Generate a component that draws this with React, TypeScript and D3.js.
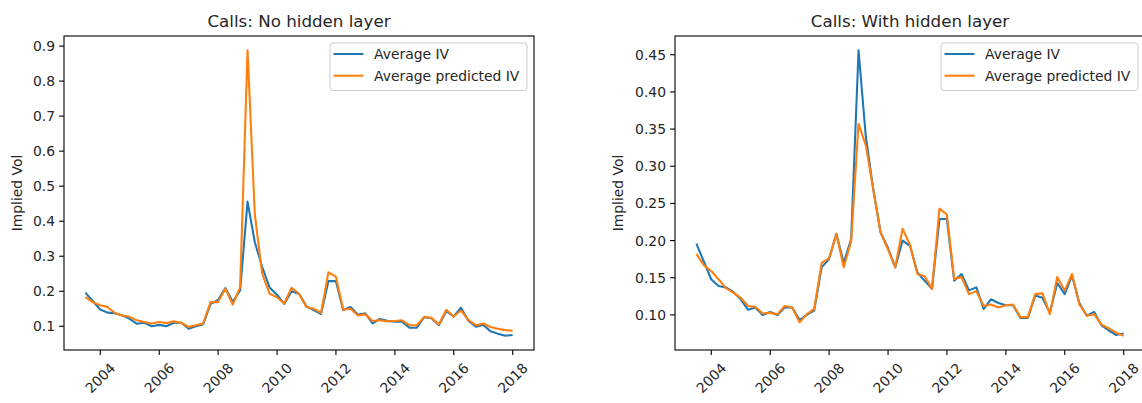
import React from "react";
import * as d3 from "d3";

// quarter-end dates, mid 2003 to end 2017
const dates = [
  "2003-06-30", "2003-09-30", "2003-12-31",
  "2004-03-31", "2004-06-30", "2004-09-30", "2004-12-31",
  "2005-03-31", "2005-06-30", "2005-09-30", "2005-12-31",
  "2006-03-31", "2006-06-30", "2006-09-30", "2006-12-31",
  "2007-03-31", "2007-06-30", "2007-09-30", "2007-12-31",
  "2008-03-31", "2008-06-30", "2008-09-30", "2008-12-31",
  "2009-03-31", "2009-06-30", "2009-09-30", "2009-12-31",
  "2010-03-31", "2010-06-30", "2010-09-30", "2010-12-31",
  "2011-03-31", "2011-06-30", "2011-09-30", "2011-12-31",
  "2012-03-31", "2012-06-30", "2012-09-30", "2012-12-31",
  "2013-03-31", "2013-06-30", "2013-09-30", "2013-12-31",
  "2014-03-31", "2014-06-30", "2014-09-30", "2014-12-31",
  "2015-03-31", "2015-06-30", "2015-09-30", "2015-12-31",
  "2016-03-31", "2016-06-30", "2016-09-30", "2016-12-31",
  "2017-03-31", "2017-06-30", "2017-09-30", "2017-12-31",
];

const averageIV = [
  0.196, 0.172, 0.148, 0.139, 0.137, 0.131, 0.121, 0.107, 0.110, 0.100,
  0.104, 0.100, 0.110, 0.110, 0.093, 0.100, 0.106, 0.164, 0.175, 0.209,
  0.170, 0.202, 0.456, 0.340, 0.270, 0.211, 0.190, 0.164, 0.200, 0.193,
  0.157, 0.146, 0.135, 0.229, 0.229, 0.146, 0.155, 0.133, 0.137, 0.108,
  0.121, 0.116, 0.113, 0.113, 0.096, 0.096, 0.126, 0.123, 0.103, 0.143,
  0.128, 0.153, 0.116, 0.099, 0.104, 0.086, 0.079, 0.073, 0.075,
];

const predictedNoHidden = [
  0.183, 0.169, 0.160, 0.155, 0.138, 0.131, 0.127, 0.117, 0.112, 0.108,
  0.112, 0.109, 0.114, 0.110, 0.098, 0.103, 0.108, 0.169, 0.169, 0.207,
  0.162, 0.212, 0.888, 0.420, 0.250, 0.193, 0.183, 0.165, 0.210, 0.193,
  0.155, 0.150, 0.138, 0.254, 0.242, 0.147, 0.150, 0.131, 0.134, 0.115,
  0.117, 0.114, 0.115, 0.117, 0.103, 0.103, 0.127, 0.124, 0.105, 0.147,
  0.128, 0.145, 0.118, 0.103, 0.108, 0.098, 0.093, 0.089, 0.087,
];

const predictedHidden = [
  0.182, 0.167, 0.159, 0.148, 0.136, 0.130, 0.123, 0.112, 0.111, 0.102,
  0.103, 0.101, 0.112, 0.110, 0.090, 0.101, 0.108, 0.170, 0.176, 0.209,
  0.164, 0.199, 0.357, 0.328, 0.270, 0.211, 0.188, 0.164, 0.216, 0.194,
  0.155, 0.152, 0.135, 0.243, 0.235, 0.148, 0.151, 0.128, 0.132, 0.112,
  0.114, 0.110, 0.113, 0.114, 0.097, 0.097, 0.128, 0.129, 0.101, 0.151,
  0.133, 0.155, 0.114, 0.099, 0.101, 0.087, 0.082, 0.076, 0.072,
];

const yearTicks = ["2004", "2006", "2008", "2010", "2012", "2014", "2016", "2018"];
const ticksNoHidden = [0.1, 0.2, 0.3, 0.4, 0.5, 0.6, 0.7, 0.8, 0.9];
const ticksHidden = [0.1, 0.15, 0.2, 0.25, 0.3, 0.35, 0.4, 0.45];
const legendLabels = ["Average IV", "Average predicted IV"];
const colors = ["#1f77b4", "#ff7f0e"];

const FONT = "DejaVu Sans, sans-serif";
const parse = d3.timeParse("%Y-%m-%d");
const parseYear = d3.timeParse("%Y");

function Chart(props: any) {
  const { left, title, predicted, yTicks, yFormat, labelX } = props;
  const top = 36, bottom = 350, w = 470;
  const right = left + w;

  const xs = dates.map((d) => parse(d) as Date);
  const [d0, d1] = d3.extent(xs) as [Date, Date];
  const pad = (+d1 - +d0) * 0.05;
  const x = d3.scaleTime().domain([new Date(+d0 - pad), new Date(+d1 + pad)]).range([left, right]);

  const all = averageIV.concat(predicted);
  const lo = d3.min(all) as number, hi = d3.max(all) as number;
  const ypad = (hi - lo) * 0.05;
  const y = d3.scaleLinear().domain([lo - ypad, hi + ypad]).range([bottom, top]);

  const line = d3.line<number>()
    .x((_, i) => x(xs[i]))
    .y((v) => y(v));

  const fmt = d3.format(yFormat);
  const lgW = 197, lgH = 47.5;
  const lgX = right - 7 - lgW, lgY = top + 7;

  return (
    <g fontFamily={FONT} fill="#262626">
      <text x={(left + right) / 2} y={27} textAnchor="middle" fontSize={16.7}>{title}</text>
      <path d={line(averageIV) || ""} fill="none" stroke={colors[0]} strokeWidth={2.08} strokeLinejoin="round" />
      <path d={line(predicted) || ""} fill="none" stroke={colors[1]} strokeWidth={2.08} strokeLinejoin="round" />
      <rect x={left} y={top} width={w} height={bottom - top} fill="none" stroke="#000" strokeWidth={1.1} />
      {yTicks.map((t: number) => (
        <g key={t}>
          <line x1={left - 4.9} x2={left} y1={y(t)} y2={y(t)} stroke="#000" strokeWidth={1.1} />
          <text x={left - 9} y={y(t)} textAnchor="end" dominantBaseline="central" fontSize={13.9}>{fmt(t)}</text>
        </g>
      ))}
      {yearTicks.map((t) => {
        const px = x(parseYear(t) as Date);
        return (
          <g key={t}>
            <line x1={px} x2={px} y1={bottom} y2={bottom + 4.9} stroke="#000" strokeWidth={1.1} />
            <text transform={`translate(${px},${bottom + 28}) rotate(-45)`} textAnchor="middle" dominantBaseline="central" fontSize={13.9}>{t}</text>
          </g>
        );
      })}
      <text transform={`translate(${labelX},${(top + bottom) / 2}) rotate(-90)`} textAnchor="middle" dominantBaseline="central" fontSize={13.9}>Implied Vol</text>
      <rect x={lgX} y={lgY} width={lgW} height={lgH} rx={3} fill="#fff" fillOpacity={0.8} stroke="#cccccc" strokeWidth={1} />
      {legendLabels.map((lab, i) => {
        const ly = lgY + 11 + i * 21.7;
        return (
          <g key={lab}>
            <line x1={lgX + 3.5} x2={lgX + 33.5} y1={ly} y2={ly} stroke={colors[i]} strokeWidth={2.08} />
            <text x={lgX + 44} y={ly} dominantBaseline="central" fontSize={13.9}>{lab}</text>
          </g>
        );
      })}
    </g>
  );
}

export default function App() {
  return (
    <svg width={1142} height={403} style={{ position: "absolute", left: 0, top: 0, background: "#fff" }}>
      <Chart left={64} title="Calls: No hidden layer" predicted={predictedNoHidden} yTicks={ticksNoHidden} yFormat=".1f" labelX={17} />
      <Chart left={675} title="Calls: With hidden layer" predicted={predictedHidden} yTicks={ticksHidden} yFormat=".2f" labelX={618} />
    </svg>
  );
}
